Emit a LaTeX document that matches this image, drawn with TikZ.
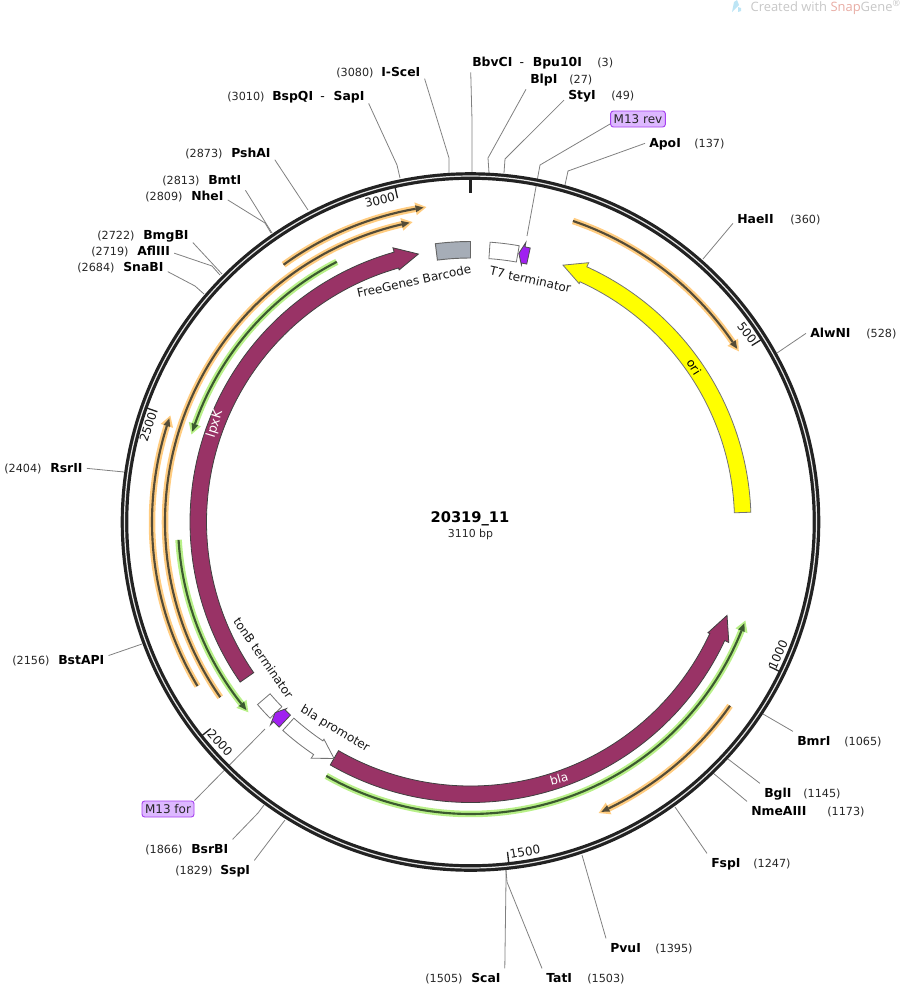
\documentclass[tikz,border=0pt]{standalone}
\usepackage{fontspec}
\setmainfont{DejaVu Sans}
\newfontfamily\markfont{Open Sans}
\definecolor{ringcol}{HTML}{222222}
\definecolor{maroon}{HTML}{993366}
\definecolor{orifill}{HTML}{FFFF00}
\definecolor{barcol}{HTML}{A6ADB7}
\definecolor{primfill}{HTML}{A020F0}
\definecolor{primbox}{HTML}{DDB8FF}
\definecolor{primedge}{HTML}{A640F0}
\definecolor{glowo}{HTML}{FFCC80}
\definecolor{glowg}{HTML}{B8F088}
\definecolor{coreo}{HTML}{544C38}
\definecolor{coreg}{HTML}{3C5A30}
\definecolor{snapcol}{HTML}{E8ACA4}
\definecolor{markicon}{HTML}{BDE5F5}
\tikzset{
  sitename/.style={font=\fontsize{9.3pt}{11pt}\selectfont\bfseries, text=black, inner sep=3pt, xshift=-3pt, text height=7pt, text depth=1.5pt},
  sitenum/.style={font=\fontsize{8.4pt}{10pt}\selectfont, text=black!85, inner sep=0pt},
  leader/.style={draw=black!50, line width=0.6pt},
  primerlab/.style={draw=primedge, fill=primbox, rounded corners=2pt, line width=0.7pt, font=\fontsize{9pt}{11pt}\selectfont, text=black!85, inner sep=0pt, minimum height=12pt},
  featlabel/.style={font=\fontsize{9pt}{11pt}\selectfont, text=black!90, inner sep=0pt},
  ticklabel/.style={font=\fontsize{9pt}{11pt}\selectfont, text=black!90, inner sep=0pt},
  ticksmall/.style={draw=ringcol, line width=1pt},
  featedge/.style={draw=black!55, line width=0.6pt},
}
\newcommand\featarrow{}
\def\featarrow(#1)(#2)(#3)[#4]{%
  % tail angle, angle of the head's back, tip angle
  \draw[#4] (#1:280.5) arc (#1:#2:280.5) -- (#2:285) -- (#3:273) -- (#2:262) -- (#2:264) arc (#2:#1:264) -- cycle;
}
\newcommand\featbox{}
\def\featbox(#1)(#2)[#3]{%
  \draw[#3] (#1:280.5) arc (#1:#2:280.5) -- (#2:264) arc (#2:#1:264) -- cycle;
}
\newcommand\primerarc{}
\def\primerarc(#1)(#2)(#3)[#4][#5]{%
  % radius, start angle, tip angle, glow colour, line colour
  \pgfmathsetmacro\primerdir{(#3-#2)/abs(#3-#2)}
  \pgfmathsetmacro\primerback{#3-\primerdir*458/#1}
  \pgfmathsetmacro\primerglow{#3+\primerdir*172/#1}
  \draw[#4, line width=4.9pt] (#2:#1) arc (#2:\primerback:#1);
  \fill[#4] (\primerback:#1+6.5) -- (\primerglow:#1) -- (\primerback:#1-6.5) -- cycle;
  \draw[#5, line width=1.6pt] (#2:#1) arc (#2:\primerback:#1);
  \fill[#5] (\primerback:#1+3.5) -- (#3:#1) -- (\primerback:#1-3.5) -- cycle;
}
\begin{document}
\begin{tikzpicture}[x=0.75pt, y=-0.75pt]
  \useasboundingbox (0,0) rectangle (901,986);
  % site labels: id/name/x/baseline/x of number/number
  \foreach \id/\lab/\nx/\by/\px/\num in {
    SceI/I-SceI/381/76/336/(3080), BlpI/BlpI/530/83/569/(27), StyI/StyI/568/99/611/(49),
    ApoI/ApoI/649/147/694/(137), HaeII/HaeII/737/223/790/(360), AlwNI/AlwNI/810/337/866/(528),
    BmrI/BmrI/797/745/844/(1065), BglI/BglI/764/797/803/(1145), NmeAIII/NmeAIII/751/815/827/(1173),
    FspI/FspI/711/867/753/(1247), PvuI/PvuI/610/952/655/(1395), TatI/TatI/546/982/587/(1503),
    ScaI/ScaI/471/982/425/(1505), SspI/SspI/220/874/175/(1829), BsrBI/BsrBI/191/853/145/(1866),
    BstAPI/BstAPI/58/664/12/(2156), RsrII/RsrII/50/472/4/(2404), SnaBI/SnaBI/123/271/77/(2684),
    AflIII/AflIII/137/255/91/(2719), BmgBI/BmgBI/143/239/97/(2722), NheI/NheI/191/200/145/(2809),
    BmtI/BmtI/208/184/162/(2813), PshAI/PshAI/231/157/185/(2873),
    BbvCI/BbvCI\hspace{5.5pt}\textmd{-}\hspace{6.5pt}Bpu10I/472/66/597/(3),
    BspQI/BspQI\hspace{5.5pt}\textmd{-}\hspace{6.5pt}SapI/272/100/227/(3010)}
    {
    \node[sitename, anchor=base west] (\id) at (\nx,\by) {\lab};
    \node[sitenum, anchor=base west] (\id-pos) at (\px,\by) {\num};
    }
  \node[primerlab, minimum width=41pt] (M13rev) at (638,119) {M13 rev};
  \node[primerlab, minimum width=39pt] (M13for) at (168,809) {M13 for};
  % leaders: id/anchor/bend/end on the ring
  \foreach \id/\anc/\bx/\by/\cx/\cy in {
    SceI/-15/449/158/449/173, BbvCI/190.3/472/120/472/173, BlpI/south west/488/158/489/173,
    StyI/195/505/159/504/173, M13rev/190/540/165/527/236, ApoI/west/568/171/565/185,
    HaeII/190/703/259/703/259, AlwNI/west/777/353/777/353, BmrI/north west/763/714/763/714,
    BglI/north west/728/759/728/759, NmeAIII/north west/713/773/713/773, FspI/north west/675/807/675/807,
    PvuI/north west/582/855/582/855, TatI/north west/507/882/506/870, ScaI/north east/506/880/506/870,
    SspI/north east/285/820/285/820, BsrBI/north east/258/813/264/805, M13for/north east/265/729/265/729,
    BstAPI/10/142/644/142/644, RsrII/east/124/472/124/472, SnaBI/-10/195/286/204/294,
    AflIII/-5/212/266/220/275, BmgBI/-15/222/274/222/274, NheI/-10/265/223/271/233,
    BmtI/south east/272/233/272/233, PshAI/-15/308/210/308/210, BspQI/-8/397/165/400/178}
    {
    \coordinate (\id-bend) at (\bx,\by);
    \coordinate (\id-ring) at (\cx,\cy);
    \draw[leader] (\id.\anc) -- (\id-bend) -- (\id-ring);
    }
  \begin{scope}[shift={(470.5,522)}, y=0.75pt]
    \draw[ringcol, line width=5.7pt] (0,0) circle (346);
    \draw[white!90!black, line width=0.9pt] (0,0) circle (346);
    \draw[ringcol, line width=2.2pt] (90:329.5) -- (90:344);
    \foreach \a in {32.1,-25.8,-83.6,-141.5,-199.4,-257.3}
      \draw[ticksmall] (\a:332) -- (\a:343);
    % thin arrows
    \primerarc(318)(126)(98.5)[glowo][coreo]
    \primerarc(305.5)(215)(101.5)[glowo][coreo]
    \primerarc(318.5)(211)(161)[glowo][coreo]
    \primerarc(318)(71.2)(33)[glowo][coreo]
    \primerarc(318)(324.7)(294.3)[glowo][coreo]
    \primerarc(292.5)(117.2)(162)[glowg][coreg]
    \primerarc(292.5)(183.5)(220)[glowg][coreg]
    \primerarc(292)(240.4)(339.7)[glowg][coreg]
    % features
    \featarrow(2)(65.5)(70.2)[fill=orifill, featedge]
    \featarrow(214.8)(105.8)(101)[fill=maroon, draw=black!75, line width=0.6pt]
    \featarrow(240)(335)(340)[fill=maroon, draw=black!75, line width=0.6pt]
    \featarrow(228)(236)(240)[fill=white, featedge]
    \featbox(97.2)(90)[fill=barcol, draw=black!60, line width=0.7pt]
    \featbox(86)(80)[fill=white, featedge]
    \featbox(220.6)(224.4)[fill=white, featedge]
    \featarrow(77.7)(78.8)(79.8)[fill=primfill, draw=black!70, line width=0.6pt]
    \featarrow(227)(225.4)(224.3)[fill=primfill, draw=black!70, line width=0.6pt]
  \end{scope}
  % texts along the ring
  \node[ticklabel, rotate=14] (t3000) at (380,200) {3000};
  \node[ticklabel, rotate=-52] (t500) at (747,333) {500};
  \node[ticklabel, rotate=66] (t1000) at (778,655) {1000};
  \node[ticklabel, rotate=10] (t1500) at (525,852) {1500};
  \node[ticklabel, rotate=-48] (t2000) at (220,743) {2000};
  \node[ticklabel, rotate=72] (t2500) at (148,427) {2500};
  \node[featlabel, rotate=12.5] (barcodeLab) at (414,281) {FreeGenes Barcode};
  \node[featlabel, rotate=-12.5] (t7Lab) at (530.5,279.5) {T7 terminator};
  \node[featlabel, rotate=-55.5] (tonBLab) at (263.5,658) {tonB terminator};
  \node[featlabel, rotate=-31] (blaPLab) at (335,729) {bla promoter};
  \node[featlabel, rotate=-58, text=black] (oriLab) at (694,367) {ori};
  \node[featlabel, rotate=73, text=white, font=\fontsize{9.6pt}{11pt}\selectfont] (lpxKLab) at (215,424) {lpxK};
  \node[featlabel, rotate=15, text=white] (blaLab) at (559,779) {bla};
  \node[font=\fontsize{11pt}{13pt}\selectfont\bfseries, inner sep=0pt] (title) at (470,518.5) {20319\_11};
  \node[font=\fontsize{8.2pt}{10pt}\selectfont, text=black!85, inner sep=0pt] (size) at (470.5,534) {3110 bp};
  % watermark
  \node[font=\fontsize{9.7pt}{11pt}\markfont, text=black!22, anchor=east, inner sep=0pt] (mark) at (901,7)
    {Created with \textcolor{snapcol}{Snap}Gene\textsuperscript{®}};
  \fill[markicon] (732,12) -- (734,2) -- (737,0) -- (739,5) -- (735,9) -- cycle;
  \fill[markicon] (738,7) -- (741,8) -- (741,11) -- (738,12) -- cycle;
\end{tikzpicture}
\end{document}
